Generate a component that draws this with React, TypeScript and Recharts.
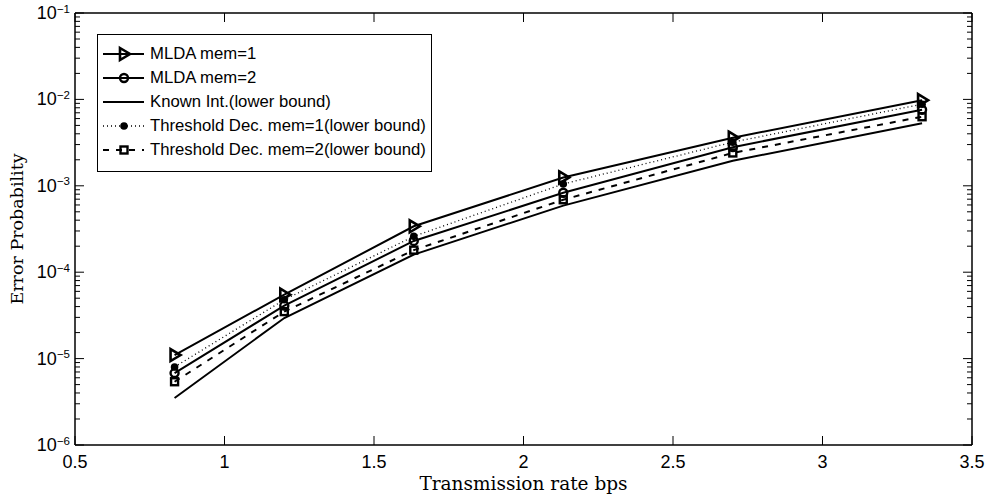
import { LineChart, Line, XAxis, YAxis, Legend } from 'recharts';

// transmission rates (bps)
const rates = [0.833, 1.2, 1.633, 2.133, 2.7, 3.333];

const mldaMem1 = [1.1e-5, 5.5e-5, 3.4e-4, 1.25e-3, 3.6e-3, 9.8e-3];
const mldaMem2 = [6.8e-6, 4.1e-5, 2.3e-4, 8.3e-4, 2.8e-3, 7.6e-3];
const knownInt = [3.5e-6, 2.95e-5, 1.6e-4, 5.9e-4, 1.95e-3, 5.3e-3];
const thrMem1 = [8e-6, 4.8e-5, 2.6e-4, 1.05e-3, 3.2e-3, 8.8e-3];
const thrMem2 = [5.4e-6, 3.5e-5, 1.8e-4, 6.9e-4, 2.4e-3, 6.3e-3];

const xTicks = [0.5, 1, 1.5, 2, 2.5, 3, 3.5];
const decades = [-6, -5, -4, -3, -2];

// major + minor log ticks
const yTicks: number[] = [];
for (const e of decades) {
  for (let m = 1; m <= 9; m++) yTicks.push(m * Math.pow(10, e));
}
yTicks.push(1e-1);

type MarkerKind = 'tri' | 'circle' | 'none' | 'dot' | 'square';

const SERIES: { key: string; name: string; marker: MarkerKind; dash?: string; width: number }[] = [
  { key: 'm1', name: 'MLDA mem=1', marker: 'tri', width: 2 },
  { key: 'm2', name: 'MLDA mem=2', marker: 'circle', width: 2 },
  { key: 'known', name: 'Known Int.(lower bound)', marker: 'none', width: 2 },
  { key: 't1', name: 'Threshold Dec. mem=1(lower bound)', marker: 'dot', dash: '1 3', width: 1.3 },
  { key: 't2', name: 'Threshold Dec. mem=2(lower bound)', marker: 'square', dash: '6 7', width: 2 },
];

const data = rates.map((x, i) => ({
  x,
  m1: mldaMem1[i],
  m2: mldaMem2[i],
  known: knownInt[i],
  t1: thrMem1[i],
  t2: thrMem2[i],
}));

const SANS = '"Liberation Sans", Arial, Helvetica, sans-serif';
const SERIF = '"DejaVu Serif", "Liberation Serif", serif';

function Marker({ kind, cx, cy }: { kind: MarkerKind; cx: number; cy: number }) {
  if (cx == null || cy == null) return null;
  switch (kind) {
    case 'tri':
      return (
        <polygon
          points={`${cx - 4},${cy - 6} ${cx + 6},${cy} ${cx - 4},${cy + 6}`}
          fill="none"
          stroke="#000"
          strokeWidth={2.6}
        />
      );
    case 'circle':
      return <circle cx={cx} cy={cy} r={4} fill="none" stroke="#000" strokeWidth={2.4} />;
    case 'dot':
      return <circle cx={cx} cy={cy} r={3.8} fill="#000" />;
    case 'square':
      return <rect x={cx - 3.5} y={cy - 3.5} width={7} height={7} fill="none" stroke="#000" strokeWidth={2.4} />;
    default:
      return null;
  }
}

const isMajor = (v: number) => {
  const l = Math.log10(v);
  return Math.abs(l - Math.round(l)) < 1e-6;
};

function LeftTick(props: any) {
  const { x, y, payload } = props;
  const v = payload.value;
  const major = isMajor(v);
  return (
    <g>
      <line x1={x} x2={x + (major ? 9 : 5)} y1={y} y2={y} stroke="#000" />
      {major && (
        <text x={x - 5} y={y + 6} textAnchor="end" fontFamily={SANS} fill="#000">
          <tspan fontSize={18}>10</tspan>
          <tspan fontSize={11.5} dy={-6.5}>{`\u2212${Math.abs(Math.round(Math.log10(v)))}`}</tspan>
        </text>
      )}
    </g>
  );
}

function RightTick(props: any) {
  const { x, y, payload } = props;
  const major = isMajor(payload.value);
  return <line x1={x} x2={x - (major ? 9 : 5)} y1={y} y2={y} stroke="#000" />;
}

function BottomTick(props: any) {
  const { x, y, payload } = props;
  return (
    <g>
      <line x1={x} x2={x} y1={y} y2={y - 9} stroke="#000" />
      <text x={x} y={y + 23} textAnchor="middle" fontFamily={SANS} fontSize={18} fill="#000">
        {payload.value}
      </text>
    </g>
  );
}

function TopTick(props: any) {
  const { x, y } = props;
  return <line x1={x} x2={x} y1={y} y2={y + 9} stroke="#000" />;
}

function LegendBox() {
  return (
    <div
      style={{
        width: 335,
        height: 138,
        boxSizing: 'border-box',
        border: '1.5px solid #000',
        background: '#fff',
        paddingTop: 7,
      }}
    >
      {SERIES.map((s) => (
        <div key={s.key} style={{ display: 'flex', alignItems: 'center', height: 24 }}>
          <svg width={52} height={24} style={{ display: 'block' }}>
            <line
              x1={5}
              x2={46}
              y1={12}
              y2={12}
              stroke="#000"
              strokeWidth={s.width}
              strokeDasharray={s.dash}
            />
            <Marker kind={s.marker} cx={26} cy={12} />
          </svg>
          <span style={{ fontFamily: SANS, fontSize: 16.7, color: '#000', whiteSpace: 'nowrap' }}>{s.name}</span>
        </div>
      ))}
    </div>
  );
}

export default function App() {
  return (
    <div style={{ position: 'absolute', left: 0, top: 0, background: '#fff' }}>
      <LineChart width={989} height={501} data={data} margin={{ top: 0, right: 0, bottom: 0, left: 0 }}>
        <XAxis
          dataKey="x"
          type="number"
          domain={[0.5, 3.5]}
          ticks={xTicks}
          interval={0}
          height={56}
          tickSize={0}
          tickMargin={0}
          tickLine={false}
          axisLine={{ stroke: '#000', strokeWidth: 1.5 }}
          tick={<BottomTick />}
          allowDataOverflow
          label={{
            content: (p: any) => (
              <text
                x={p.viewBox.x + p.viewBox.width / 2}
                y={p.viewBox.y + 45}
                textAnchor="middle"
                fontFamily={SERIF}
                fontSize={18.5}
                fill="#000"
              >
                Transmission rate bps
              </text>
            ),
          }}
        />
        <XAxis
          xAxisId="top"
          orientation="top"
          dataKey="x"
          type="number"
          domain={[0.5, 3.5]}
          ticks={xTicks}
          interval={0}
          height={13}
          tickSize={0}
          tickMargin={0}
          tickLine={false}
          axisLine={{ stroke: '#000', strokeWidth: 1.5 }}
          tick={<TopTick />}
          allowDataOverflow
        />
        <YAxis
          type="number"
          scale="log"
          domain={[1e-6, 1e-1]}
          ticks={yTicks}
          interval={0}
          width={75}
          tickSize={0}
          tickMargin={0}
          tickLine={false}
          axisLine={{ stroke: '#000', strokeWidth: 1.5 }}
          tick={<LeftTick />}
          allowDataOverflow
          label={{
            content: (p: any) => {
              const cy = p.viewBox.y + p.viewBox.height / 2;
              return (
                <text
                  x={23}
                  y={cy}
                  transform={`rotate(-90, 23, ${cy})`}
                  textAnchor="middle"
                  fontFamily={SERIF}
                  fontSize={17.5}
                  fill="#000"
                >
                  Error Probability
                </text>
              );
            },
          }}
        />
        <YAxis
          yAxisId="right"
          orientation="right"
          type="number"
          scale="log"
          domain={[1e-6, 1e-1]}
          ticks={yTicks}
          interval={0}
          width={17}
          tickSize={0}
          tickMargin={0}
          tickLine={false}
          axisLine={{ stroke: '#000', strokeWidth: 1.5 }}
          tick={<RightTick />}
          allowDataOverflow
        />
        <Legend
          layout="vertical"
          align="center"
          verticalAlign="middle"
          wrapperStyle={{ position: 'absolute', left: 97, top: 34, width: 335, height: 138 }}
          content={() => <LegendBox />}
        />
        {SERIES.map((s) => (
          <Line
            key={s.key}
            dataKey={s.key}
            name={s.name}
            type="linear"
            stroke="#000"
            strokeWidth={s.width}
            strokeDasharray={s.dash}
            isAnimationActive={false}
            dot={(p: any) => <Marker key={`${s.key}-${p.index}`} kind={s.marker} cx={p.cx} cy={p.cy} />}
            activeDot={false}
          />
        ))}
      </LineChart>
    </div>
  );
}
